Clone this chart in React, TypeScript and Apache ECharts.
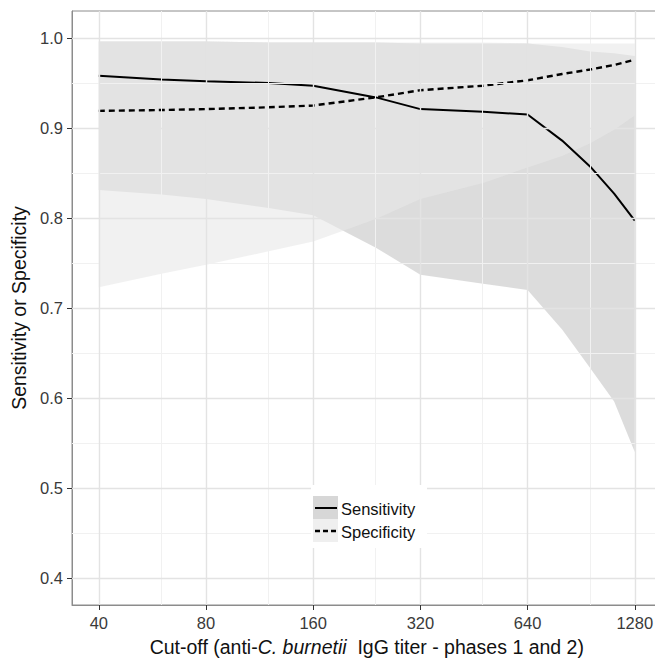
import React, { useEffect, useRef } from "react";
import * as echarts from "echarts";

// Cut-off titers (x) and values
const titers = [40, 60, 80, 120, 160, 240, 320, 480, 640, 800, 960, 1120, 1280];
const sensitivity = [0.958, 0.954, 0.952, 0.95, 0.947, 0.934, 0.921, 0.918, 0.915, 0.886, 0.857, 0.827, 0.797];
const sensLower = [0.831, 0.826, 0.821, 0.811, 0.803, 0.767, 0.737, 0.727, 0.72, 0.676, 0.633, 0.596, 0.54];
const sensUpper = [0.996, 0.996, 0.996, 0.995, 0.995, 0.995, 0.994, 0.994, 0.994, 0.99, 0.985, 0.983, 0.98];
const specificity = [0.919, 0.92, 0.921, 0.923, 0.925, 0.934, 0.942, 0.947, 0.953, 0.96, 0.965, 0.97, 0.976];
const specLower = [0.723, 0.738, 0.748, 0.763, 0.774, 0.799, 0.821, 0.839, 0.856, 0.869, 0.883, 0.898, 0.914];
const specUpper = [0.996, 0.996, 0.996, 0.995, 0.995, 0.995, 0.995, 0.995, 0.994, 0.994, 0.994, 0.994, 0.994];

// Axis ticks
const xTickTiters = [40, 80, 160, 320, 640, 1280];
const xMinorTiters = [60, 120, 240, 480, 960];
const yTicks = [0.4, 0.5, 0.6, 0.7, 0.8, 0.9, 1.0];
const yMinor = [0.45, 0.55, 0.65, 0.75, 0.85, 0.95];

const BASE = 40;
const toX = (t: number) => Math.log2(t / BASE);

function bandSeries(name: string, lower: number[], upper: number[], fill: string, z: number) {
  const xs = titers.map(toX);
  const data = xs.map((x, i) => [x, lower[i], upper[i]]);
  return {
    name,
    type: "custom",
    silent: true,
    z,
    data,
    encode: { x: 0, y: [1, 2] },
    renderItem: (params: any, api: any) => {
      if (params.dataIndex !== 0) return null;
      const top = data.map((d) => api.coord([d[0], d[2]]));
      const bottom = data.map((d) => api.coord([d[0], d[1]])).reverse();
      return {
        type: "polygon",
        shape: { points: top.concat(bottom) },
        style: { fill },
      };
    },
  };
}

export default function App() {
  const ref = useRef<HTMLDivElement>(null);

  useEffect(() => {
    if (!ref.current) return;
    const chart = echarts.init(ref.current, null, { renderer: "svg" });
    const xs = titers.map(toX);
    const font = "Liberation Sans, Arial, Helvetica, sans-serif";

    const majorLine = { color: "#e3e3e3", width: 1.4, type: "solid" as const };
    const minorLine = { color: "#f1f1f1", width: 1, type: "solid" as const };
    const gridLines = [
      ...yMinor.map((v) => ({ yAxis: v, lineStyle: minorLine })),
      ...xMinorTiters.map((t) => ({ xAxis: toX(t), lineStyle: minorLine })),
      ...yTicks.map((v) => ({ yAxis: v, lineStyle: majorLine })),
      ...xTickTiters.map((t) => ({ xAxis: toX(t), lineStyle: majorLine })),
    ];

    chart.setOption({
      animation: false,
      backgroundColor: "#ffffff",
      textStyle: { fontFamily: font },
      grid: {
        left: 72,
        top: 11,
        width: 589.6,
        height: 594,
        show: true,
        borderColor: "#8c8c8c",
        borderWidth: 1,
        backgroundColor: "transparent",
        containLabel: false,
        outerBoundsMode: "none",
      },
      xAxis: {
        type: "value",
        min: -0.25,
        max: 5.25,
        splitLine: { show: false },
        axisLine: { show: true, onZero: false, lineStyle: { color: "#8c8c8c", width: 1 } },
        axisTick: {
          show: true,
          length: 5,
          customValues: xTickTiters.map(toX),
          lineStyle: { color: "#333", width: 1 },
        },
        axisLabel: {
          customValues: xTickTiters.map(toX),
          formatter: (v: number) => String(Math.round(BASE * Math.pow(2, v))),
          fontSize: 16.5,
          color: "#3a3a3a",
          margin: 9,
          fontFamily: font,
        },
        name: "{n|Cut-off (anti-}{i|C. burnetii}{n|  IgG titer - phases 1 and 2)}",
        nameLocation: "middle",
        nameGap: 32,
        nameTextStyle: {
          fontFamily: font,
          rich: {
            n: { fontSize: 19.5, color: "#111", fontFamily: font },
            i: { fontSize: 19.5, color: "#111", fontStyle: "italic", fontFamily: font },
          },
        },
      },
      yAxis: {
        type: "value",
        min: 0.37,
        max: 1.03,
        splitLine: { show: false },
        axisLine: { show: true, onZero: false, lineStyle: { color: "#8c8c8c", width: 1 } },
        axisTick: {
          show: true,
          length: 5,
          customValues: yTicks,
          lineStyle: { color: "#333", width: 1 },
        },
        axisLabel: {
          customValues: yTicks,
          formatter: (v: number) => v.toFixed(1),
          fontSize: 16.5,
          color: "#3a3a3a",
          margin: 9,
          fontFamily: font,
        },
        name: "Sensitivity or Specificity",
        nameLocation: "middle",
        nameGap: 43,
        nameTextStyle: { fontSize: 19.5, color: "#111", fontFamily: font },
      },
      series: [
        {
          name: "grid",
          type: "line",
          symbol: "none",
          silent: true,
          z: 1,
          lineStyle: { opacity: 0 },
          data: xs.map((x, i) => [x, sensitivity[i]]),
          markLine: {
            silent: true,
            symbol: ["none", "none"],
            label: { show: false },
            emphasis: { disabled: true },
            data: gridLines,
          },
        },
        bandSeries("Sensitivity CI", sensLower, sensUpper, "rgba(197,197,197,0.6)", 2),
        bandSeries("Specificity CI", specLower, specUpper, "rgba(232,232,232,0.6)", 2),
        {
          name: "Sensitivity",
          type: "line",
          symbol: "none",
          z: 3,
          lineStyle: { color: "#000", width: 2 },
          data: xs.map((x, i) => [x, sensitivity[i]]),
        },
        {
          name: "Specificity",
          type: "line",
          symbol: "none",
          z: 3,
          lineStyle: { color: "#000", width: 2.4, type: [6, 4] },
          data: xs.map((x, i) => [x, specificity[i]]),
        },
      ],
      graphic: [
        { type: "rect", z: 100, shape: { x: 311, y: 485, width: 116, height: 63 }, style: { fill: "#fff" } },
        { type: "rect", z: 101, shape: { x: 313, y: 496, width: 25, height: 23 }, style: { fill: "#d7d7d7" } },
        { type: "rect", z: 101, shape: { x: 313, y: 519, width: 25, height: 23 }, style: { fill: "#efefef" } },
        {
          type: "line", z: 102,
          shape: { x1: 315, y1: 508, x2: 337, y2: 508 },
          style: { stroke: "#000", lineWidth: 2 },
        },
        {
          type: "line", z: 102,
          shape: { x1: 315, y1: 531, x2: 337, y2: 531 },
          style: { stroke: "#000", lineWidth: 2.4, lineDash: [5, 3] },
        },
        {
          type: "text", z: 102, x: 341, y: 509,
          style: { text: "Sensitivity", fontSize: 16.5, fontFamily: font, fill: "#111", verticalAlign: "middle" },
        },
        {
          type: "text", z: 102, x: 341, y: 532,
          style: { text: "Specificity", fontSize: 16.5, fontFamily: font, fill: "#111", verticalAlign: "middle" },
        },
      ],
    });

    return () => chart.dispose();
  }, []);

  return (
    <div
      ref={ref}
      style={{ position: "fixed", left: 0, top: 0, width: 655, height: 662, overflow: "hidden", background: "#fff" }}
    />
  );
}
